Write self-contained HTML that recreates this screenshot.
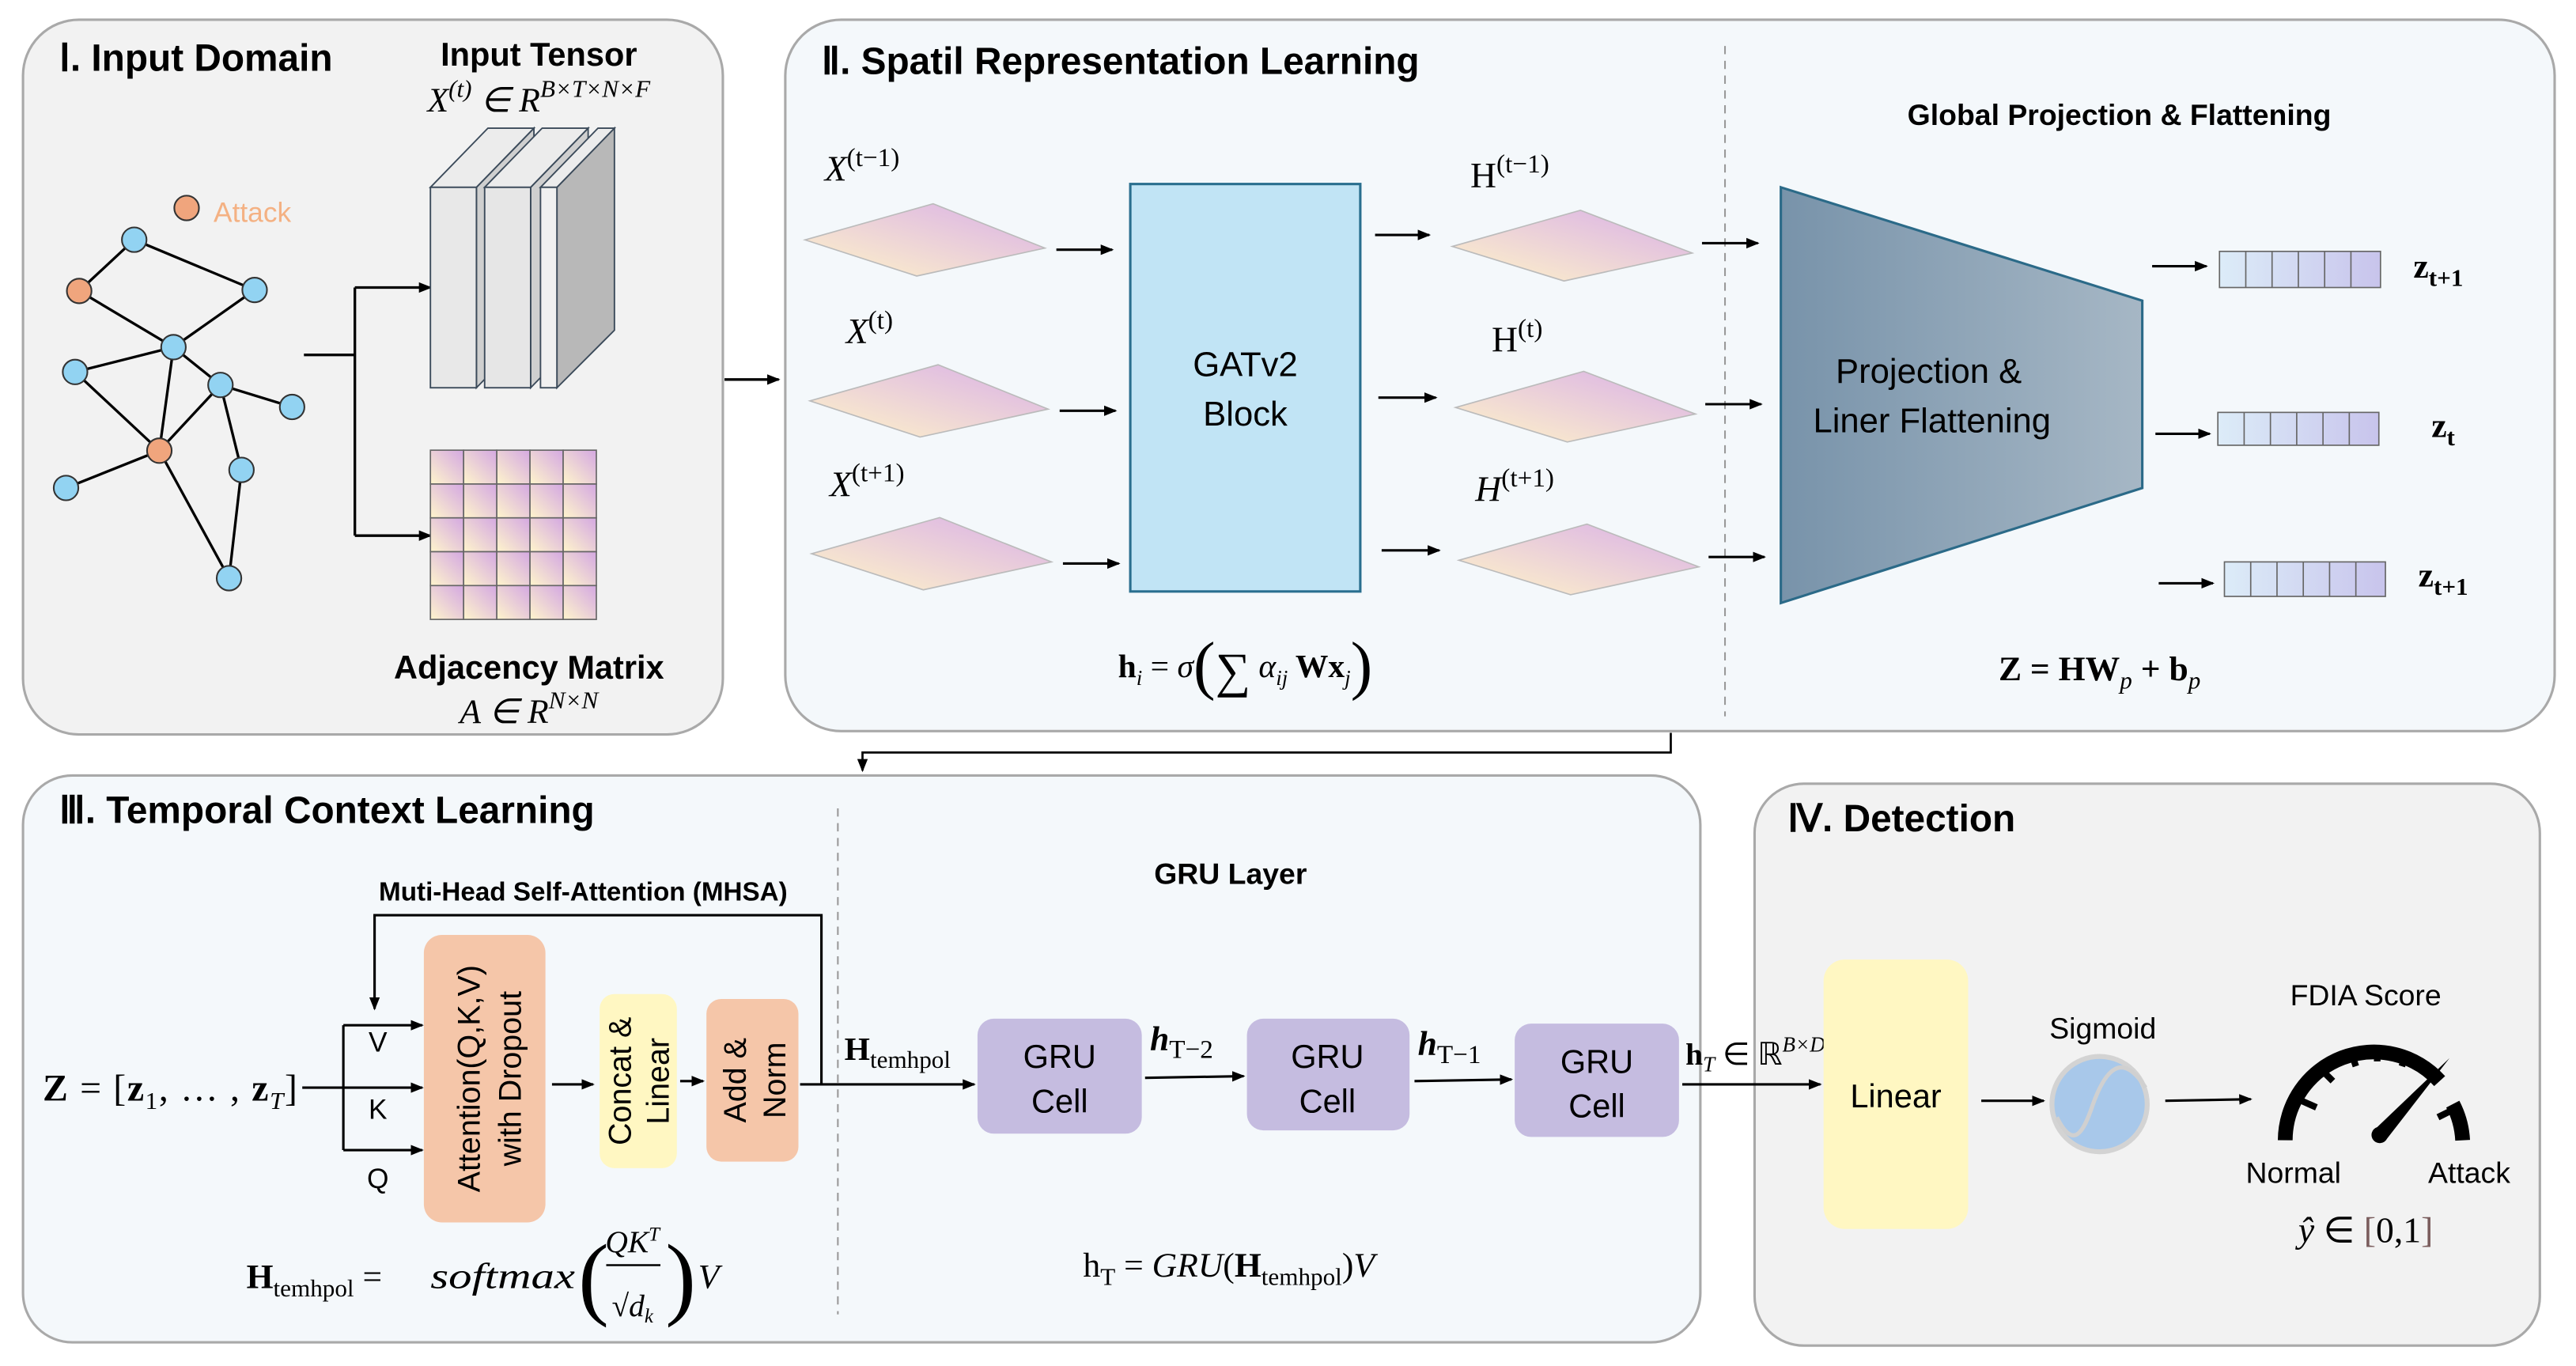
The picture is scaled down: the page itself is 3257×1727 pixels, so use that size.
<!DOCTYPE html>
<html><head><meta charset="utf-8"><style>
html,body{margin:0;padding:0;background:#fff;}
svg{display:block;}
.s{font-family:"Liberation Sans",sans-serif;}
.m{font-family:"Liberation Serif",serif;}
</style></head><body>
<svg width="3257" height="1727" viewBox="0 0 1568 831.4" preserveAspectRatio="none" xmlns="http://www.w3.org/2000/svg">
<defs>
<marker id="a" markerWidth="8" markerHeight="8" refX="7" refY="4" orient="auto" markerUnits="userSpaceOnUse"><path d="M0,0.8 L8,4 L0,7.2z" fill="#000"/></marker>
<linearGradient id="pl" x1="0" y1="1" x2="1" y2="0"><stop offset="0" stop-color="#fff4c8"/><stop offset="1" stop-color="#d9b0e8"/></linearGradient>
<linearGradient id="cell" x1="0" y1="1" x2="1" y2="0"><stop offset="0" stop-color="#fff5cc"/><stop offset="1" stop-color="#d4a8e2"/></linearGradient>
<linearGradient id="tz" x1="0" y1="0" x2="1" y2="0"><stop offset="0" stop-color="#7893aa"/><stop offset="1" stop-color="#a6b7c5"/></linearGradient>
<linearGradient id="vc" x1="0" y1="0" x2="1" y2="0"><stop offset="0" stop-color="#dcecf8"/><stop offset="1" stop-color="#c8c4ec"/></linearGradient>
</defs>

<rect x="14" y="12" width="426" height="435" rx="34" fill="#f2f2f2" stroke="#a9a9a9" stroke-width="1.5"/>
<rect x="478" y="12" width="1077" height="433" rx="34" fill="#f4f8fb" stroke="#a9a9a9" stroke-width="1.5"/>
<rect x="14" y="472" width="1021" height="345" rx="30" fill="#f4f8fb" stroke="#a9a9a9" stroke-width="1.5"/>
<rect x="1068" y="477" width="478" height="342" rx="30" fill="#f2f2f2" stroke="#a9a9a9" stroke-width="1.5"/>

<text x="36" y="43" class="s" font-size="23" font-weight="bold">Ⅰ. Input Domain</text>
<text x="328" y="40" class="s" font-size="20" font-weight="bold" text-anchor="middle">Input Tensor</text>
<text x="328" y="68" class="m" font-size="21" font-style="italic" text-anchor="middle">X<tspan dy="-9" font-size="15">(t)</tspan><tspan dy="9"> ∈ R</tspan><tspan dy="-9" font-size="15">B×T×N×F</tspan></text>
<g stroke="#000" stroke-width="1.6">
<line x1="81.7" y1="145.9" x2="48.2" y2="177.1"/><line x1="81.7" y1="145.9" x2="155" y2="176.5"/>
<line x1="48.2" y1="177.1" x2="105.6" y2="211.3"/><line x1="155" y1="176.5" x2="105.6" y2="211.3"/>
<line x1="105.6" y1="211.3" x2="45.7" y2="226.4"/><line x1="105.6" y1="211.3" x2="134.2" y2="234.3"/>
<line x1="105.6" y1="211.3" x2="97" y2="274.3"/><line x1="45.7" y1="226.4" x2="97" y2="274.3"/>
<line x1="134.2" y1="234.3" x2="177.8" y2="247.7"/><line x1="134.2" y1="234.3" x2="97" y2="274.3"/>
<line x1="134.2" y1="234.3" x2="147" y2="286"/><line x1="97" y1="274.3" x2="40.2" y2="297"/>
<line x1="97" y1="274.3" x2="139.4" y2="351.9"/><line x1="147" y1="286" x2="139.4" y2="351.9"/>
</g>
<g stroke="#333" stroke-width="1">
<circle cx="81.7" cy="145.9" r="7.5" fill="#92d3f2"/><circle cx="48.2" cy="177.1" r="7.5" fill="#f0a57d"/>
<circle cx="155" cy="176.5" r="7.5" fill="#92d3f2"/><circle cx="105.6" cy="211.3" r="7.5" fill="#92d3f2"/>
<circle cx="45.7" cy="226.4" r="7.5" fill="#92d3f2"/><circle cx="134.2" cy="234.3" r="7.5" fill="#92d3f2"/>
<circle cx="177.8" cy="247.7" r="7.5" fill="#92d3f2"/><circle cx="97" cy="274.3" r="7.5" fill="#f0a57d"/>
<circle cx="147" cy="286" r="7.5" fill="#92d3f2"/><circle cx="40.2" cy="297" r="7.5" fill="#92d3f2"/>
<circle cx="139.4" cy="351.9" r="7.5" fill="#92d3f2"/><circle cx="113.6" cy="126.6" r="7.5" fill="#f0a57d"/>
</g>
<text x="130" y="135" class="s" font-size="17" fill="#f4b183">Attack</text>
<g fill="none" stroke="#000" stroke-width="1.6">
<polyline points="185,216 216,216"/><polyline points="216,175 216,326"/>
<line x1="216" y1="175" x2="262" y2="175" marker-end="url(#a)"/>
<line x1="216" y1="326" x2="262" y2="326" marker-end="url(#a)"/>
</g>
<g stroke="#3b4a5a" stroke-width="0.9">
<polygon points="290,114 325,78 325,200 290,236" fill="#cfcfcf"/>
<polygon points="262,114 290,114 325,78 297,78" fill="#ececec"/>
<rect x="262" y="114" width="28" height="122" fill="#e8e8e8"/>
<polygon points="323,114 358,78 358,200 323,236" fill="#cfcfcf"/>
<polygon points="295,114 323,114 358,78 330,78" fill="#ececec"/>
<rect x="295" y="114" width="28" height="122" fill="#e6e6e6"/>
<polygon points="339,114 374,78 374,201 339,236" fill="#b8b8b8"/>
<polygon points="329,114 339,114 374,78 364,78" fill="#ececec"/>
<rect x="329" y="114" width="10" height="122" fill="#f0f0f0"/>
</g>
<g stroke="#666" stroke-width="0.8" fill="url(#cell)">
<rect x="262" y="274" width="20.2" height="20.6"/><rect x="282.2" y="274" width="20.2" height="20.6"/><rect x="302.4" y="274" width="20.2" height="20.6"/><rect x="322.6" y="274" width="20.2" height="20.6"/><rect x="342.8" y="274" width="20.2" height="20.6"/>
<rect x="262" y="294.6" width="20.2" height="20.6"/><rect x="282.2" y="294.6" width="20.2" height="20.6"/><rect x="302.4" y="294.6" width="20.2" height="20.6"/><rect x="322.6" y="294.6" width="20.2" height="20.6"/><rect x="342.8" y="294.6" width="20.2" height="20.6"/>
<rect x="262" y="315.2" width="20.2" height="20.6"/><rect x="282.2" y="315.2" width="20.2" height="20.6"/><rect x="302.4" y="315.2" width="20.2" height="20.6"/><rect x="322.6" y="315.2" width="20.2" height="20.6"/><rect x="342.8" y="315.2" width="20.2" height="20.6"/>
<rect x="262" y="335.8" width="20.2" height="20.6"/><rect x="282.2" y="335.8" width="20.2" height="20.6"/><rect x="302.4" y="335.8" width="20.2" height="20.6"/><rect x="322.6" y="335.8" width="20.2" height="20.6"/><rect x="342.8" y="335.8" width="20.2" height="20.6"/>
<rect x="262" y="356.4" width="20.2" height="20.6"/><rect x="282.2" y="356.4" width="20.2" height="20.6"/><rect x="302.4" y="356.4" width="20.2" height="20.6"/><rect x="322.6" y="356.4" width="20.2" height="20.6"/><rect x="342.8" y="356.4" width="20.2" height="20.6"/>
</g>
<text x="322" y="413" class="s" font-size="20" font-weight="bold" text-anchor="middle">Adjacency Matrix</text>
<text x="322" y="440" class="m" font-size="21" font-style="italic" text-anchor="middle">A ∈ R<tspan dy="-9" font-size="15">N×N</tspan></text>

<line x1="441" y1="231" x2="474" y2="231" stroke="#000" stroke-width="1.6" marker-end="url(#a)"/>

<text x="500" y="45" class="s" font-size="23" font-weight="bold">Ⅱ. Spatil Representation Learning</text>
<line x1="1050" y1="28" x2="1050" y2="436" stroke="#999" stroke-width="1" stroke-dasharray="5,4"/>
<text x="1290" y="76" class="s" font-size="18" font-weight="bold" text-anchor="middle">Global Projection &amp; Flattening</text>
<g stroke="#bbb" stroke-width="0.8" fill="url(#pl)">
<polygon points="490,146 568,124 636,151 558,168"/>
<polygon points="493,244 571,222 638,249 560,266"/>
<polygon points="494,337 572,315 640,342 562,359"/>
<polygon points="884,150 962,128 1030,154 952,171"/>
<polygon points="886,248 964,226 1032,252 954,269"/>
<polygon points="888,341 966,319 1034,345 956,362"/>
</g>
<text x="502" y="110" class="m" font-size="22" font-style="italic">X<tspan dy="-9" font-size="16" font-style="normal">(t−1)</tspan></text>
<text x="515" y="209" class="m" font-size="22" font-style="italic">X<tspan dy="-9" font-size="16" font-style="normal">(t)</tspan></text>
<text x="505" y="302" class="m" font-size="22" font-style="italic">X<tspan dy="-9" font-size="16" font-style="normal">(t+1)</tspan></text>
<text x="895" y="114" class="m" font-size="22">H<tspan dy="-9" font-size="16">(t−1)</tspan></text>
<text x="908" y="214" class="m" font-size="22">H<tspan dy="-9" font-size="16">(t)</tspan></text>
<text x="898" y="305" class="m" font-size="22" font-style="italic">H<tspan dy="-9" font-size="16" font-style="normal">(t+1)</tspan></text>
<g stroke="#000" stroke-width="1.5" marker-end="url(#a)">
<line x1="643" y1="152" x2="677" y2="152"/><line x1="645" y1="250" x2="679" y2="250"/><line x1="647" y1="343" x2="681" y2="343"/>
<line x1="837" y1="143" x2="870" y2="143"/><line x1="839" y1="242" x2="874" y2="242"/><line x1="841" y1="335" x2="876" y2="335"/>
<line x1="1036" y1="148" x2="1070" y2="148"/><line x1="1038" y1="246" x2="1072" y2="246"/><line x1="1040" y1="339" x2="1074" y2="339"/>
<line x1="1310" y1="162" x2="1343" y2="162"/><line x1="1312" y1="264" x2="1345" y2="264"/><line x1="1314" y1="355" x2="1347" y2="355"/>
</g>
<rect x="688" y="112" width="140" height="248" fill="#c1e4f5" stroke="#2a6f8f" stroke-width="1.5"/>
<text x="758" y="229" class="s" font-size="21" text-anchor="middle">GATv2</text>
<text x="758" y="259" class="s" font-size="21" text-anchor="middle">Block</text>
<text x="758" y="412" class="m" font-size="20" text-anchor="middle"><tspan font-weight="bold">h</tspan><tspan dy="5" font-size="13" font-style="italic">i</tspan><tspan dy="-5"> = </tspan><tspan font-style="italic">σ</tspan><tspan font-size="40" dy="6">(</tspan><tspan dy="0" font-size="30">∑</tspan><tspan dy="-6" font-style="italic"> α</tspan><tspan dy="5" font-size="13" font-style="italic">ij</tspan><tspan dy="-5" font-weight="bold"> Wx</tspan><tspan dy="5" font-size="13" font-style="italic">j</tspan><tspan dy="1" font-size="40">)</tspan></text>
<polygon points="1084,114 1304,183 1304,297 1084,367" fill="url(#tz)" stroke="#2b6a88" stroke-width="1.5"/>
<text x="1174" y="233" class="s" font-size="21" text-anchor="middle">Projection &amp;</text>
<text x="1176" y="263" class="s" font-size="21" text-anchor="middle">Liner Flattening</text>
<g stroke="#666" stroke-width="0.8" fill="url(#vc)">
<rect x="1351" y="153" width="98" height="22"/><rect x="1350" y="251" width="98" height="20"/><rect x="1354" y="342" width="98" height="21"/>
</g>
<g stroke="#666" stroke-width="0.8">
<line x1="1367" y1="153" x2="1367" y2="175"/><line x1="1383" y1="153" x2="1383" y2="175"/><line x1="1399" y1="153" x2="1399" y2="175"/><line x1="1415" y1="153" x2="1415" y2="175"/><line x1="1431" y1="153" x2="1431" y2="175"/>
<line x1="1366" y1="251" x2="1366" y2="271"/><line x1="1382" y1="251" x2="1382" y2="271"/><line x1="1398" y1="251" x2="1398" y2="271"/><line x1="1414" y1="251" x2="1414" y2="271"/><line x1="1430" y1="251" x2="1430" y2="271"/>
<line x1="1370" y1="342" x2="1370" y2="363"/><line x1="1386" y1="342" x2="1386" y2="363"/><line x1="1402" y1="342" x2="1402" y2="363"/><line x1="1418" y1="342" x2="1418" y2="363"/><line x1="1434" y1="342" x2="1434" y2="363"/>
</g>
<text x="1469" y="169" class="m" font-size="21" font-weight="bold">z<tspan dy="5" font-size="15">t+1</tspan></text>
<text x="1480" y="266" class="m" font-size="21" font-weight="bold">z<tspan dy="5" font-size="15">t</tspan></text>
<text x="1472" y="357" class="m" font-size="21" font-weight="bold">z<tspan dy="5" font-size="15">t+1</tspan></text>
<text x="1278" y="414" class="m" font-size="21" text-anchor="middle" font-weight="bold">Z = HW<tspan dy="5" font-size="15" font-style="italic" font-weight="normal">p</tspan><tspan dy="-5"> + b</tspan><tspan dy="5" font-size="15" font-style="italic" font-weight="normal">p</tspan></text>

<polyline points="1017,446 1017,458 525,458 525,469" fill="none" stroke="#000" stroke-width="1.3" marker-end="url(#a)"/>

<text x="36" y="501" class="s" font-size="23" font-weight="bold">Ⅲ. Temporal Context Learning</text>
<line x1="510" y1="492" x2="510" y2="800" stroke="#999" stroke-width="1" stroke-dasharray="5,4"/>
<text x="355" y="548" class="s" font-size="16" font-weight="bold" text-anchor="middle">Muti-Head Self-Attention (MHSA)</text>
<text x="749" y="538" class="s" font-size="18" font-weight="bold" text-anchor="middle">GRU Layer</text>
<polyline points="500,660 500,557 228,557 228,614" fill="none" stroke="#000" stroke-width="1.5" marker-end="url(#a)"/>
<text x="26" y="670" class="m" font-size="23" textLength="155" lengthAdjust="spacing"><tspan font-weight="bold">Z</tspan> = [<tspan font-weight="bold">z</tspan><tspan dy="5" font-size="15">1</tspan><tspan dy="-5">, … , </tspan><tspan font-weight="bold">z</tspan><tspan dy="5" font-size="15" font-style="italic">T</tspan><tspan dy="-5">]</tspan></text>
<g stroke="#000" stroke-width="1.5" fill="none">
<line x1="184" y1="662" x2="209" y2="662"/>
<line x1="209" y1="624" x2="209" y2="700"/>
<line x1="209" y1="624" x2="257" y2="624" marker-end="url(#a)"/>
<line x1="209" y1="662" x2="257" y2="662" marker-end="url(#a)"/>
<line x1="209" y1="700" x2="257" y2="700" marker-end="url(#a)"/>
<line x1="336" y1="660" x2="361" y2="660" marker-end="url(#a)"/>
<line x1="414" y1="658" x2="428" y2="658" marker-end="url(#a)"/>
<line x1="487" y1="660" x2="593" y2="660" marker-end="url(#a)"/>
<line x1="697" y1="656" x2="757" y2="655" marker-end="url(#a)"/>
<line x1="861" y1="658" x2="920" y2="657" marker-end="url(#a)"/>
<line x1="1024" y1="660" x2="1108" y2="660" marker-end="url(#a)"/>
</g>
<text x="230" y="640" class="s" font-size="17" text-anchor="middle">V</text>
<text x="230" y="681" class="s" font-size="17" text-anchor="middle">K</text>
<text x="230" y="723" class="s" font-size="17" text-anchor="middle">Q</text>
<rect x="258" y="569" width="74" height="175" rx="11" fill="#f5c6a9"/>
<text transform="translate(292,656.5) rotate(-90)" class="s" font-size="19" text-anchor="middle">Attention(Q,K,V)</text>
<text transform="translate(317,656.5) rotate(-90)" class="s" font-size="19" text-anchor="middle">with Dropout</text>
<rect x="365" y="605" width="47" height="106" rx="9" fill="#fff7c2"/>
<text transform="translate(384,658) rotate(-90)" class="s" font-size="19" text-anchor="middle">Concat &amp;</text>
<text transform="translate(407,658) rotate(-90)" class="s" font-size="19" text-anchor="middle">Linear</text>
<rect x="430" y="608" width="56" height="99" rx="9" fill="#f5c6a9"/>
<text transform="translate(454,657.5) rotate(-90)" class="s" font-size="19" text-anchor="middle">Add &amp;</text>
<text transform="translate(478,657.5) rotate(-90)" class="s" font-size="19" text-anchor="middle">Norm</text>
<text x="514" y="645" class="m" font-size="20" font-weight="bold">H<tspan dy="5" font-size="15" font-weight="normal">temhpol</tspan></text>
<rect x="595" y="620" width="100" height="70" rx="10" fill="#c5bce0"/>
<rect x="759" y="620" width="99" height="68" rx="10" fill="#c5bce0"/>
<rect x="922" y="623" width="100" height="69" rx="10" fill="#c5bce0"/>
<text x="645" y="650" class="s" font-size="20" text-anchor="middle">GRU</text><text x="645" y="677" class="s" font-size="20" text-anchor="middle">Cell</text>
<text x="808" y="650" class="s" font-size="20" text-anchor="middle">GRU</text><text x="808" y="677" class="s" font-size="20" text-anchor="middle">Cell</text>
<text x="972" y="653" class="s" font-size="20" text-anchor="middle">GRU</text><text x="972" y="680" class="s" font-size="20" text-anchor="middle">Cell</text>
<text x="700" y="639" class="m" font-size="21" font-weight="bold" font-style="italic">h<tspan dy="5" font-size="16" font-weight="normal" font-style="normal">T−2</tspan></text>
<text x="863" y="642" class="m" font-size="21" font-weight="bold" font-style="italic">h<tspan dy="5" font-size="16" font-weight="normal" font-style="normal">T−1</tspan></text>
<text x="1026" y="648" class="m" font-size="19" font-weight="bold">h<tspan dy="4" font-size="13" font-style="italic" font-weight="normal">T</tspan><tspan dy="-4" font-weight="normal"> ∈ ℝ</tspan><tspan dy="-8" font-size="13" font-style="italic" font-weight="normal">B×D</tspan></text>
<text x="150" y="784" class="m" font-size="21"><tspan font-weight="bold">H</tspan><tspan dy="5" font-size="15">temhpol</tspan><tspan dy="-5"> = </tspan></text>
<text x="262" y="784" class="m" font-size="22" font-style="italic" textLength="88" lengthAdjust="spacingAndGlyphs">softmax</text>
<text x="352" y="796" class="m" font-size="56">(</text>
<text x="385" y="762" class="m" font-size="19" font-style="italic" text-anchor="middle">QK<tspan dy="-7" font-size="12">T</tspan></text>
<line x1="369" y1="770" x2="402" y2="770" stroke="#000" stroke-width="1.2"/>
<text x="385" y="801" class="m" font-size="19" text-anchor="middle">√<tspan font-style="italic">d</tspan><tspan dy="4" font-size="12" font-style="italic">k</tspan></text>
<text x="405" y="796" class="m" font-size="56">)</text>
<text x="425" y="784" class="m" font-size="21" font-style="italic">V</text>
<text x="748" y="777" class="m" font-size="21" text-anchor="middle">h<tspan dy="5" font-size="15">T</tspan><tspan dy="-5"> = </tspan><tspan font-style="italic">GRU</tspan>(<tspan font-weight="bold">H</tspan><tspan dy="5" font-size="15">temhpol</tspan><tspan dy="-5">)</tspan><tspan font-style="italic">V</tspan></text>

<text x="1088" y="506" class="s" font-size="23" font-weight="bold">Ⅳ. Detection</text>
<rect x="1110" y="584" width="88" height="164" rx="13" fill="#fff7c2"/>
<text x="1154" y="674" class="s" font-size="20" text-anchor="middle">Linear</text>
<g stroke="#000" stroke-width="1.5" marker-end="url(#a)">
<line x1="1206" y1="670" x2="1244" y2="670"/><line x1="1318" y1="670" x2="1370" y2="669"/>
</g>
<text x="1280" y="632" class="s" font-size="18" text-anchor="middle">Sigmoid</text>
<circle cx="1278" cy="672" r="29" fill="#a8c8ea" stroke="#d3d3d3" stroke-width="3"/>
<path d="M1252,680 C1262,700 1268,690 1274,672 C1282,650 1292,640 1306,662" fill="none" stroke="#d0d0d0" stroke-width="2.5"/>
<text x="1440" y="612" class="s" font-size="18" text-anchor="middle">FDIA Score</text>
<path d="M1391,694 A54,54 0 0 1 1485,658" fill="none" stroke="#000" stroke-width="9"/>
<path d="M1493,672 A54,54 0 0 1 1499,694" fill="none" stroke="#000" stroke-width="9"/>
<g stroke="#000" stroke-width="4">
<line x1="1401" y1="670" x2="1410" y2="674"/><line x1="1413" y1="651" x2="1420" y2="658"/>
<line x1="1431" y1="640" x2="1434" y2="649"/><line x1="1447" y1="636" x2="1447" y2="646"/>
<line x1="1465" y1="640" x2="1462" y2="649"/><line x1="1492" y1="676" x2="1484" y2="680"/>
</g>
<path d="M1491,644 L1447,686 A5,5 0 1 0 1453,693 Z" fill="#000"/>
<text x="1396" y="720" class="s" font-size="18" text-anchor="middle">Normal</text>
<text x="1503" y="720" class="s" font-size="18" text-anchor="middle">Attack</text>
<text x="1440" y="756" class="m" font-size="22" text-anchor="middle"><tspan font-style="italic">ŷ</tspan> ∈ <tspan fill="#7a5c5c">[</tspan>0,1<tspan fill="#7a5c5c">]</tspan></text>
</svg>
</body></html>
